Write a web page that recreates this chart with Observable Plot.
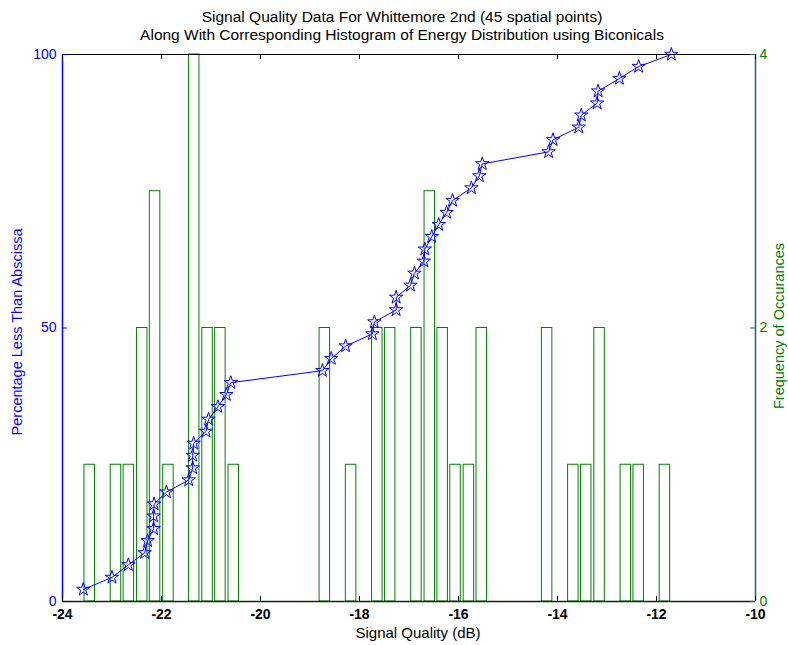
<!DOCTYPE html>
<html>
<head>
<meta charset="utf-8">
<script src="https://cdn.jsdelivr.net/npm/d3@7"></script>
<script src="https://cdn.jsdelivr.net/npm/@observablehq/plot@0.6"></script>
<style>
  html, body { margin: 0; padding: 0; background: white; }
  #chart svg { display: block; }
</style>
</head>
<body>
<div id="chart"></div>
<script>
// ---- Data ----
const titleLines = [
  "Signal Quality Data For Whittemore 2nd (45 spatial points)",
  "Along With Corresponding Histogram of Energy Distribution using Biconicals"
];
const xLabel = "Signal Quality (dB)";
const leftLabel = "Percentage Less Than Abscissa";
const rightLabel = "Frequency of Occurances";

const xTicks = [-24, -22, -20, -18, -16, -14, -12, -10];
const leftTicks = [0, 50, 100];
const rightTicks = [0, 2, 4];

// sorted signal quality values (dB)
const signalQuality = [-23.58, -23.00, -22.67, -22.34, -22.28, -22.16, -22.16, -22.15, -21.90,
  -21.45, -21.37, -21.37, -21.35, -21.10, -21.05, -20.86, -20.69, -20.60,
  -18.75, -18.57, -18.28, -17.74, -17.70, -17.26, -17.26, -16.97, -16.89, -16.70, -16.68,
  -16.54, -16.40, -16.24, -16.12, -15.74, -15.58, -15.52,
  -14.18, -14.09, -13.57, -13.52, -13.20, -13.18, -12.75, -12.36, -11.70];
// percentage less than abscissa
const percentLess = [2.2, 4.4, 6.7, 8.9, 11.1, 13.3, 15.6, 17.8, 20.0, 22.2, 24.4, 26.7, 28.9,
  31.1, 33.3, 35.6, 37.8, 40.0, 42.2, 44.4, 46.7, 48.9, 51.1, 53.3, 55.6, 57.8, 60.0, 62.2,
  64.4, 66.7, 68.9, 71.1, 73.3, 75.6, 77.8, 80.0, 82.2, 84.4, 86.7, 88.9, 91.1, 93.3, 95.6, 97.8, 100];

// histogram bins (centers, dB) with non-zero counts
const binCenters = [-23.45, -22.92, -22.66, -22.39, -22.13, -21.86, -21.34, -21.07, -20.81, -20.54,
  -18.70, -18.17, -17.64, -17.38, -16.85, -16.58, -16.32, -16.06, -15.79, -15.53,
  -14.21, -13.68, -13.42, -13.15, -12.62, -12.36, -11.83];
const binCounts = [1, 1, 1, 2, 3, 1, 4, 2, 2, 1,
  2, 1, 2, 2, 2, 3, 2, 1, 1, 2,
  2, 1, 1, 2, 1, 1, 1];
const barHalfWidth = 0.106;
const countMax = 4;   // right axis max
const pctMax = 100;   // left axis max

// ---- Build tables ----
const pts = signalQuality.map((x, i) => ({x, y: percentLess[i]}));
const k = pctMax / countMax;
const bars = binCenters.map((c, i) => ({c, n: binCounts[i]}));

const blue = "#0000ff";
const green = "#008000";
const rightAxisColor = "#1f5e78";
const font = "'Liberation Sans', Arial, Helvetica, sans-serif";

const plot = Plot.plot({
  width: 788,
  height: 645,
  marginLeft: 62,
  marginRight: 33,
  marginTop: 54,
  marginBottom: 44,
  x: {domain: [-24, -10], axis: null},
  y: {domain: [0, 100], axis: null},
  style: {fontFamily: font, fontSize: "14px", background: "white", color: "black"},
  marks: [
    // histogram (right axis scale)
    Plot.rect(bars, {x1: d => d.c - barHalfWidth, x2: d => d.c + barHalfWidth, y1: 0, y2: d => d.n * k,
      fill: "none", stroke: green, strokeWidth: 1}),
    // cumulative line
    Plot.line(pts, {x: "x", y: "y", stroke: blue, strokeWidth: 1}),
    Plot.dot(pts, {x: "x", y: "y", symbol: "star", r: 4.2, stroke: blue, fill: "none", strokeWidth: 1}),
    // box
    Plot.ruleY([100], {stroke: "black", strokeWidth: 1}),
    Plot.ruleY([0], {stroke: "#0a2a0a", strokeWidth: 1.5}),
    Plot.ruleX([-24], {y1: 0, y2: 100, stroke: blue, strokeWidth: 1.5}),
    Plot.ruleX([-10], {y1: 0, y2: 100, stroke: rightAxisColor, strokeWidth: 1.5}),
    // x ticks (inward), bottom and top
    Plot.ruleX(xTicks, {x: d => d, y1: 0, y2: 0, insetTop: -5, stroke: "black"}),
    Plot.ruleX(xTicks, {x: d => d, y1: 100, y2: 100, insetBottom: -5, stroke: "black"}),
    // left ticks
    Plot.ruleY(leftTicks, {y: d => d, x1: -24, x2: -24, insetRight: -5, stroke: blue}),
    // right ticks
    Plot.ruleY(rightTicks, {y: d => d * k, x1: -10, x2: -10, insetLeft: -5, stroke: rightAxisColor}),
    // tick labels
    Plot.text(xTicks, {x: d => d, y: 0, dy: 13, text: d => String(d), fill: "black",
      fontWeight: "bold", fontSize: 14}),
    Plot.text(leftTicks, {x: -24, y: d => d, dx: -6, textAnchor: "end", text: d => String(d),
      fill: blue, fontSize: 14}),
    Plot.text(rightTicks, {x: -10, y: d => d * k, dx: 4, textAnchor: "start", text: d => String(d),
      fill: green, fontSize: 14}),
    // axis labels
    Plot.text([xLabel], {frameAnchor: "bottom", lineAnchor: "middle", dy: 32, dx: 9, fill: "black", fontSize: 15}),
    Plot.text([leftLabel], {frameAnchor: "left", textAnchor: "middle", lineAnchor: "middle",
      dx: -45, dy: 4, rotate: -90, fill: blue, fontSize: 14.5}),
    Plot.text([rightLabel], {frameAnchor: "right", textAnchor: "middle", lineAnchor: "middle",
      dx: 24, dy: -2, rotate: -90, fill: green, fontSize: 14.5}),
    // title
    Plot.text([titleLines[0]], {frameAnchor: "top", lineAnchor: "middle", dy: -37, dx: -7, fill: "black", fontSize: 15.5}),
    Plot.text([titleLines[1]], {frameAnchor: "top", lineAnchor: "middle", dy: -19, dx: -7, fill: "black", fontSize: 15.5})
  ]
});
document.getElementById("chart").appendChild(plot);
</script>
</body>
</html>
